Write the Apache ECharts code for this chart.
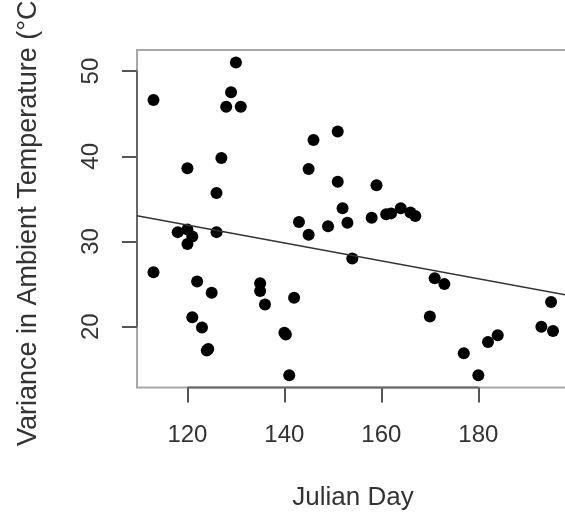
<!DOCTYPE html>
<html>
<head>
<meta charset="utf-8">
<script src="https://cdn.jsdelivr.net/npm/echarts@6/dist/echarts.min.js"></script>
<style>
html,body{margin:0;padding:0;background:#fff;}
#chart{width:565px;height:518px;}
</style>
</head>
<body>
<div id="chart"></div>
<script>
// Julian day of each observation
var days = [113, 130, 129, 128, 131, 127, 120, 126, 146, 151, 145, 151, 152, 143, 149, 153,
            159, 145, 158, 161, 162, 164, 166, 167, 154, 171, 173,
            118, 120, 121, 120, 126, 113, 122, 125, 135, 135, 136, 142, 121, 123, 124, 124.3,
            140, 140.3, 141, 170, 195, 193, 195.4, 184, 182, 177, 180];
// Variance in ambient temperature (°C)
var variance = [46.6, 51.0, 47.5, 45.8, 45.8, 39.8, 38.6, 35.7, 41.9, 42.9, 38.5, 37.0, 33.9, 32.3, 31.8, 32.2,
                36.6, 30.8, 32.8, 33.2, 33.3, 33.9, 33.4, 33.0, 28.0, 25.7, 25.0,
                31.1, 31.4, 30.6, 29.7, 31.1, 26.4, 25.3, 24.0, 25.1, 24.2, 22.6, 23.4, 21.1, 19.9, 17.2, 17.4,
                19.3, 19.1, 14.3, 21.2, 22.9, 20.0, 19.5, 19.0, 18.2, 16.9, 14.3];
// Fitted regression line end points
var fitX = [109.6, 198.7];
var fitY = [33.03, 23.67];
// Tick labels
var xTicks = [120, 140, 160, 180];
var yTicks = [20, 30, 40, 50];

var xMin = 109.6, xMax = 198.7, yMin = 12.87, yMax = 52.47;

var points = days.map(function (d, i) { return [d, variance[i]]; });
var fitLine = fitX.map(function (x, i) { return [x, fitY[i]]; });
var xAxisSeg = [[xTicks[0], yMin], [xTicks[xTicks.length - 1], yMin]];
var yAxisSeg = [[xMin, yTicks[0]], [xMin, yTicks[yTicks.length - 1]]];

var chart = echarts.init(document.getElementById('chart'), null, {renderer: 'canvas'});
var font = 'Liberation Sans, Arial, Helvetica, sans-serif';
function seg(data) {
  return {
    type: 'line', data: data, showSymbol: false, symbol: 'none', clip: false, silent: true,
    lineStyle: {color: '#666', width: 2}, z: 2
  };
}
chart.setOption({
  animation: false,
  backgroundColor: '#ffffff',
  grid: {
    left: 137, top: 50, width: 432, height: 337.5,
    outerBoundsMode: 'none', containLabel: false,
    show: true, borderColor: '#a8a8a8', borderWidth: 2, backgroundColor: 'transparent'
  },
  xAxis: {
    type: 'value', min: xMin, max: xMax,
    name: 'Julian Day', nameLocation: 'middle', nameGap: 97,
    nameTextStyle: {fontFamily: font, fontSize: 26, color: '#333'},
    axisLine: {show: false},
    splitLine: {show: false},
    axisTick: {show: true, customValues: xTicks, length: 15, lineStyle: {color: '#555', width: 2}},
    axisLabel: {customValues: xTicks, margin: 36, fontFamily: font, fontSize: 24, color: '#333'}
  },
  yAxis: {
    type: 'value', min: yMin, max: yMax,
    name: 'Variance in Ambient Temperature (°C)', nameLocation: 'middle', nameGap: 95,
    nameTextStyle: {fontFamily: font, fontSize: 27, color: '#333'},
    axisLine: {show: false},
    splitLine: {show: false},
    axisTick: {show: true, customValues: yTicks, length: 15, lineStyle: {color: '#555', width: 2}},
    axisLabel: {customValues: yTicks, rotate: 90, margin: 34, fontFamily: font, fontSize: 24, color: '#333'}
  },
  series: [
    seg(xAxisSeg),
    seg(yAxisSeg),
    {
      type: 'scatter', data: points, symbol: 'circle', symbolSize: 12,
      itemStyle: {color: '#000', opacity: 1}, z: 3
    },
    {
      type: 'line', data: fitLine, showSymbol: false, symbol: 'none',
      lineStyle: {color: '#333', width: 1.5}, z: 4, silent: true
    }
  ]
});
</script>
</body>
</html>
